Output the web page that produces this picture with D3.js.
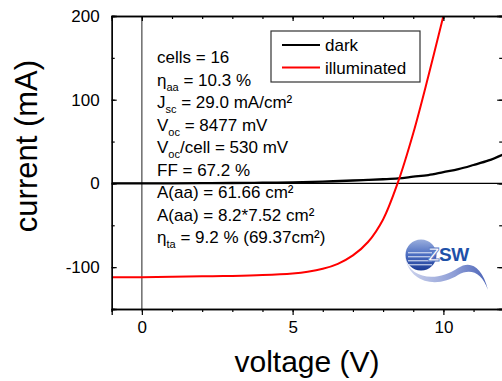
<!DOCTYPE html>
<html>
<head>
<meta charset="utf-8">
<script src="https://d3js.org/d3.v7.min.js"></script>
<style>
    body { margin: 0; background: #fff; }
    svg { display: block; font-family: Arial, "Liberation Sans", sans-serif; }
    .tick text { font-size: 17px; fill: #000; }
    .info { font-size: 17px; fill: #000; }
</style>
</head>
<body>
<svg id="chart" width="502" height="381"></svg>
<script>
// dark curve (V, mA)
const darkVoltage = [-1, 0, 1, 2, 3, 4, 5, 6, 7, 7.5, 8, 8.5, 9, 9.5, 10, 10.5, 11, 11.5, 12];
const darkCurrent = [0, 0, 0.1, 0.3, 0.5, 0.8, 1.3, 2.2, 3.5, 4.2, 5, 6, 8, 10, 13.5, 17, 22, 27.5, 35];

// illuminated curve (V, mA)
const illumVoltage = [-1, 0, 1, 2, 3, 4, 5, 5.5, 6, 6.5, 7, 7.5, 8, 8.48, 9, 9.5, 10, 10.1];
const illumCurrent = [-112, -112, -111.5, -111, -110.5, -109.5, -107.5, -105.5, -102, -96, -86, -70, -43, 0, 60, 128, 200, 215];

const xTicks = [0, 5, 10];
const yTicks = [-100, 0, 100, 200];

const infoLines = [
    [["cells = 16"]],
    [["η"], ["aa", "sub"], [" = 10.3 %"]],
    [["J"], ["sc", "sub"], [" = 29.0 mA/cm²"]],
    [["V"], ["oc", "sub"], [" = 8477 mV"]],
    [["V"], ["oc", "sub"], ["/cell = 530 mV"]],
    [["FF = 67.2 %"]],
    [["A(aa) = 61.66 cm²"]],
    [["A(aa) = 8.2*7.52 cm²"]],
    [["η"], ["ta", "sub"], [" = 9.2 % (69.37cm²)"]]
];

const legendItems = [
    { label: "dark", color: "#000" },
    { label: "illuminated", color: "#ff0000" }
];

const svg = d3.select("#chart");

const plot = { left: 111.7, right: 503.7, top: 16, bottom: 309 };

const x = d3.scaleLinear().domain([-1, 12]).range([plot.left, plot.right]);
const y = d3.scaleLinear().domain([-150, 200]).range([plot.bottom, plot.top]);

svg.append("clipPath")
    .attr("id", "plot-clip")
    .append("rect")
    .attr("x", plot.left)
    .attr("y", plot.top)
    .attr("width", plot.right - plot.left)
    .attr("height", plot.bottom - plot.top);

// reference lines at x = 0 and y = 0
svg.append("line")
    .attr("x1", x(0)).attr("x2", x(0))
    .attr("y1", plot.top).attr("y2", plot.bottom)
    .attr("stroke", "#555")
    .attr("stroke-width", 1.3);

svg.append("line")
    .attr("x1", plot.left).attr("x2", plot.right)
    .attr("y1", y(0)).attr("y2", y(0))
    .attr("stroke", "#000")
    .attr("stroke-width", 1.3);

// info text
const info = svg.append("g");

infoLines.forEach(function(parts, index) {
    const text = info.append("text")
        .attr("class", "info")
        .attr("x", 157)
        .attr("y", 63 + index * 22.5);

    parts.forEach(function(part, i) {
        if (part[1] === "sub") {
            text.append("tspan")
                .attr("font-size", 11)
                .attr("dy", 5)
                .text(part[0]);
        } else {
            text.append("tspan")
                .attr("dy", i > 0 ? -5 : 0)
                .text(part[0]);
        }
    });
});

// curves
const line = d3.line()
    .x(function(d) { return x(d[0]); })
    .y(function(d) { return y(d[1]); })
    .curve(d3.curveCatmullRom.alpha(0.5));

const curves = svg.append("g").attr("clip-path", "url(#plot-clip)");

curves.append("path")
    .datum(d3.zip(darkVoltage, darkCurrent))
    .attr("d", line)
    .attr("fill", "none")
    .attr("stroke", "#000")
    .attr("stroke-width", 2.3);

curves.append("path")
    .datum(d3.zip(illumVoltage, illumCurrent))
    .attr("d", line)
    .attr("fill", "none")
    .attr("stroke", "#ff0000")
    .attr("stroke-width", 2);

// axes
function styleAxis(g) {
    g.select(".domain").attr("stroke", "#000").attr("stroke-width", 1.3);
    g.selectAll(".tick line").attr("stroke", "#000").attr("stroke-width", 1.2);
}

const plainFormat = function(d) { return String(d); };

const xMinor = d3.range(-1, 13, 1);
const yMinor = d3.range(-150, 201, 50);

svg.append("g")
    .attr("transform", "translate(0," + plot.bottom + ")")
    .call(d3.axisBottom(x).tickValues(xMinor).tickSize(3).tickFormat(""))
    .call(styleAxis);

svg.append("g")
    .attr("transform", "translate(0," + plot.bottom + ")")
    .call(d3.axisBottom(x).tickValues(xTicks).tickSize(6).tickPadding(6).tickFormat(plainFormat))
    .call(styleAxis);

svg.append("g")
    .attr("transform", "translate(0," + plot.top + ")")
    .call(d3.axisTop(x).tickValues(xMinor).tickSize(-3).tickFormat(""))
    .call(styleAxis);

svg.append("g")
    .attr("transform", "translate(0," + plot.top + ")")
    .call(d3.axisTop(x).tickValues(xTicks).tickSize(-5).tickFormat(""))
    .call(styleAxis);

svg.append("g")
    .attr("transform", "translate(" + plot.left + ",0)")
    .call(d3.axisLeft(y).tickValues(yMinor).tickSize(-3).tickFormat(""))
    .call(styleAxis);

svg.append("g")
    .attr("transform", "translate(" + plot.left + ",0)")
    .call(d3.axisLeft(y).tickValues(yTicks).tickSize(-5).tickPadding(12).tickFormat(plainFormat))
    .call(styleAxis);

svg.append("g")
    .attr("transform", "translate(" + (plot.right - 1.5) + ",0)")
    .call(d3.axisRight(y).tickValues(yMinor).tickSize(-3).tickFormat(""))
    .call(styleAxis);

svg.append("g")
    .attr("transform", "translate(" + (plot.right - 1.5) + ",0)")
    .call(d3.axisRight(y).tickValues(yTicks).tickSize(-5).tickFormat(""))
    .call(styleAxis);

svg.selectAll(".tick text").attr("font-family", null).attr("font-size", null);

// axis titles
svg.append("text")
    .attr("x", 307)
    .attr("y", 372)
    .attr("text-anchor", "middle")
    .attr("font-size", 30)
    .text("voltage (V)");

svg.append("text")
    .attr("transform", "translate(37,146) rotate(-90)")
    .attr("text-anchor", "middle")
    .attr("font-size", 31)
    .text("current (mA)");

// legend
const legend = svg.append("g").attr("transform", "translate(271,31)");

legend.append("rect")
    .attr("width", 149)
    .attr("height", 51)
    .attr("fill", "#fff")
    .attr("stroke", "#333")
    .attr("stroke-width", 1.2);

legendItems.forEach(function(item, index) {
    const row = legend.append("g").attr("transform", "translate(0," + (14 + index * 22.5) + ")");

    row.append("line")
        .attr("x1", 11).attr("x2", 49)
        .attr("stroke", item.color)
        .attr("stroke-width", 2);

    row.append("text")
        .attr("x", 54)
        .attr("y", 6)
        .attr("font-size", 17)
        .text(item.label);
});

// ZSW logo
const defs = svg.append("defs");

const ball = defs.append("linearGradient")
    .attr("id", "ball-grad")
    .attr("x1", 0).attr("y1", 0).attr("x2", 0).attr("y2", 1);
ball.append("stop").attr("offset", "0%").attr("stop-color", "#9aaedd");
ball.append("stop").attr("offset", "50%").attr("stop-color", "#4a6cc0");
ball.append("stop").attr("offset", "100%").attr("stop-color", "#1c3c96");

const wave = defs.append("linearGradient")
    .attr("id", "wave-grad")
    .attr("x1", 0).attr("y1", 0).attr("x2", 1).attr("y2", 0);
wave.append("stop").attr("offset", "0%").attr("stop-color", "#d0d6ee");
wave.append("stop").attr("offset", "60%").attr("stop-color", "#8d9dd6");
wave.append("stop").attr("offset", "100%").attr("stop-color", "#4a62b6");

const logo = svg.append("g");

logo.append("path")
    .attr("d", "M405,257 C410,280 438,282 458,268 C470,260 482,266 488,290 C482,272 470,268 458,275 C438,288 410,284 405,257 Z")
    .attr("fill", "url(#wave-grad)");

logo.append("circle")
    .attr("cx", 421)
    .attr("cy", 255)
    .attr("r", 15.5)
    .attr("fill", "url(#ball-grad)");

[252, 256, 260, 264].forEach(function(stripeY) {
    logo.append("rect")
        .attr("x", 408)
        .attr("y", stripeY)
        .attr("width", 24)
        .attr("height", 1.4)
        .attr("fill", "#e8eef9")
        .attr("opacity", 0.7);
});

const logoText = logo.append("text")
    .attr("x", 428)
    .attr("y", 261)
    .attr("font-size", 19)
    .attr("font-weight", "bold")
    .attr("letter-spacing", -0.5);

logoText.append("tspan")
    .attr("fill", "#ffffff")
    .attr("stroke", "#5a78c4")
    .attr("stroke-width", 0.8)
    .text("Z");
logoText.append("tspan").attr("fill", "#1e50a8").text("SW");
</script>
</body>
</html>
